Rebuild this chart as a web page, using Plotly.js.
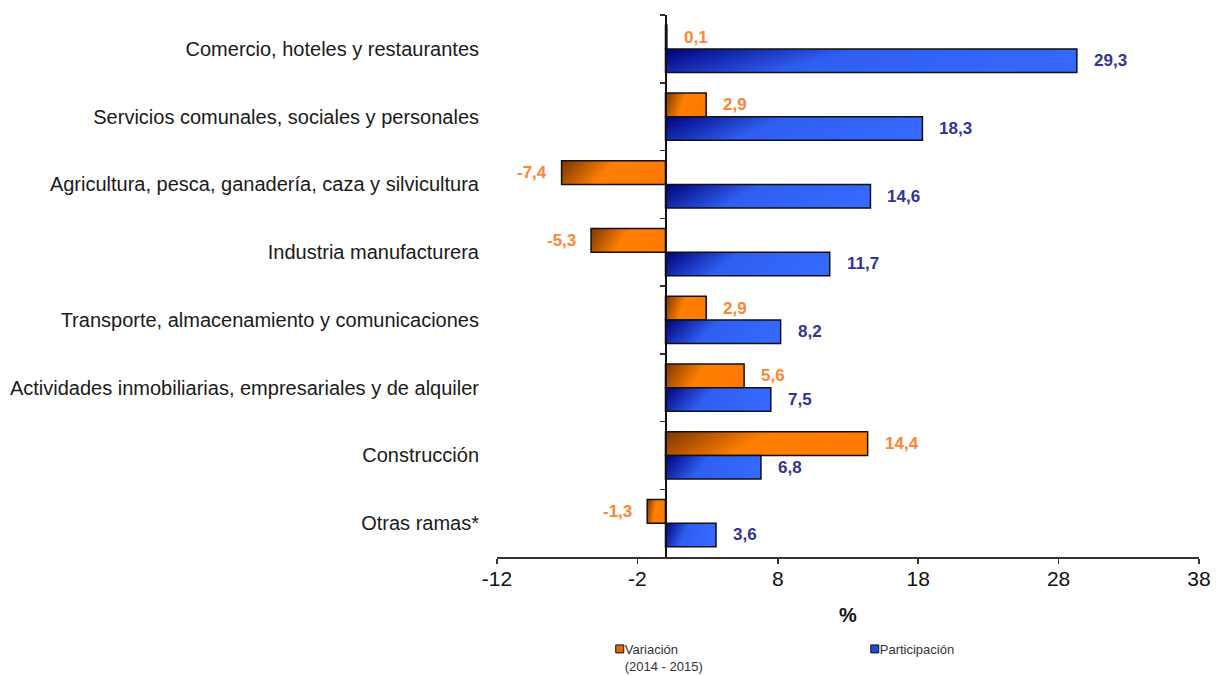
<!DOCTYPE html>
<html>
<head>
<meta charset="utf-8">
<script src="https://cdn.plot.ly/plotly-3.0.1.min.js"></script>
<style>
  html, body { margin: 0; padding: 0; background: #ffffff; }
  #chart { width: 1217px; height: 675px; }
</style>
</head>
<body>
<div id="chart"></div>
<script>
// ---- Data ----
const categories = [
  "Comercio, hoteles y restaurantes",
  "Servicios comunales, sociales y personales",
  "Agricultura, pesca, ganadería, caza y silvicultura",
  "Industria manufacturera",
  "Transporte, almacenamiento y comunicaciones",
  "Actividades inmobiliarias, empresariales y de alquiler",
  "Construcción",
  "Otras ramas*"
];
const variacion = [0.1, 2.9, -7.4, -5.3, 2.9, 5.6, 14.4, -1.3];
const participacion = [29.3, 18.3, 14.6, 11.7, 8.2, 7.5, 6.8, 3.6];
const seriesNames = ["Variación<br>(2014 - 2015)", "Participación"];
const xTicks = [-12, -2, 8, 18, 28, 38];
const axisTitle = "%";

// ---- Styles ----
const FONT = "Liberation Sans, Arial, sans-serif";
const orangeFill = "#E06A10";
const blueFill = "#2448D8";
const orangeText = "#FF8433";
const blueText = "#333399";

const fmt = v => v.toFixed(1).replace(".", ",");

const traces = [
  {
    type: "bar", orientation: "h", name: seriesNames[0],
    x: variacion, y: categories,
    marker: { color: orangeFill, line: { color: "#111111", width: 1.5 } },
    hoverinfo: "skip"
  },
  {
    type: "bar", orientation: "h", name: seriesNames[1],
    x: participacion, y: categories,
    marker: { color: blueFill, line: { color: "#111111", width: 1.5 } },
    hoverinfo: "skip"
  },
  {
    // invisible helper trace so the zero-line axis gets its category ticks
    type: "scatter", mode: "markers", x: categories.map(() => 0), y: categories,
    yaxis: "y2", marker: { opacity: 0, size: 1 }, showlegend: false, hoverinfo: "skip"
  }
];

// value labels (built from the data arrays)
const annotations = [];
const halfBar = 11.8;
[[variacion, orangeText, halfBar], [participacion, blueText, -halfBar]].forEach(([vals, col, ys]) => {
  vals.forEach((v, i) => {
    annotations.push({
      x: v, y: categories[i], xref: "x", yref: "y",
      text: fmt(v), showarrow: false,
      xanchor: v >= 0 ? "left" : "right",
      xshift: v >= 0 ? 15 : -13,
      yshift: ys,
      font: { family: FONT, size: 17, color: col, weight: "bold" }
    });
  });
});

const catRange = [categories.length - 0.5, -0.5];

const layout = {
  width: 1217, height: 675,
  paper_bgcolor: "#ffffff", plot_bgcolor: "#ffffff",
  margin: { l: 497, r: 18, t: 15, b: 118, autoexpand: false },
  barmode: "group", bargap: 0.3, bargroupgap: 0,
  showlegend: true,
  font: { family: FONT, color: "#222222" },
  xaxis: {
    range: [xTicks[0], xTicks[xTicks.length - 1]],
    tickvals: xTicks, ticktext: xTicks.map(String),
    ticks: "outside", ticklen: 5, tickcolor: "#333333", tickwidth: 1.5,
    ticklabelstandoff: -3,
    showline: true, linecolor: "#333333", linewidth: 1.5,
    showgrid: false, zeroline: false,
    tickfont: { family: FONT, size: 21, color: "#111111" },
    title: { text: axisTitle, font: { family: FONT, size: 20, color: "#111111", weight: "bold" }, standoff: 19 }
  },
  yaxis: {
    type: "category", range: catRange,
    categoryorder: "array", categoryarray: categories,
    showline: false, ticks: "", showgrid: false, zeroline: false,
    ticklabelstandoff: 17,
    tickfont: { family: FONT, size: 20, color: "#1a1a1a" }
  },
  yaxis2: {
    type: "category", range: catRange, overlaying: "y",
    categoryorder: "array", categoryarray: categories,
    anchor: "free", position: (0 - xTicks[0]) / (xTicks[xTicks.length - 1] - xTicks[0]),
    side: "left",
    showline: true, linecolor: "#111111", linewidth: 1.5,
    ticks: "outside", tickson: "boundaries", ticklen: 5, tickcolor: "#333333", tickwidth: 1.5,
    showticklabels: false, showgrid: false, zeroline: false
  },
  legend: {
    orientation: "h", x: 0.125, xanchor: "left", y: -0.142, yanchor: "top",
    valign: "top", traceorder: "normal",
    entrywidth: 210, entrywidthmode: "pixels",
    itemwidth: 30,
    font: { family: FONT, size: 13, color: "#333333" },
    bgcolor: "rgba(0,0,0,0)"
  },
  annotations: annotations
};

function applyGradients(gd) {
  const svg = gd.querySelector("svg.main-svg");
  if (!svg) return;
  let defs = svg.querySelector("defs");
  if (!defs) { defs = document.createElementNS("http://www.w3.org/2000/svg", "defs"); svg.insertBefore(defs, svg.firstChild); }
  const mk = (id, stops) => {
    if (defs.querySelector("#" + id)) return;
    const g = document.createElementNS("http://www.w3.org/2000/svg", "linearGradient");
    g.setAttribute("id", id);
    g.setAttribute("x1", "0"); g.setAttribute("y1", "0");
    g.setAttribute("x2", "1"); g.setAttribute("y2", "0.2");
    stops.forEach(([o, c]) => {
      const s = document.createElementNS("http://www.w3.org/2000/svg", "stop");
      s.setAttribute("offset", o); s.setAttribute("stop-color", c);
      g.appendChild(s);
    });
    defs.appendChild(g);
  };
  mk("gradOrange", [["0", "#7a3600"], ["0.5", "#ff7f00"], ["1", "#ff7a00"]]);
  mk("gradBlue", [["0", "#00007a"], ["0.45", "#2f5ff0"], ["1", "#3468ff"]]);
  const barTraces = gd.querySelectorAll(".barlayer .trace");
  barTraces.forEach((t, i) => {
    const id = i === 0 ? "gradOrange" : "gradBlue";
    t.querySelectorAll(".point path").forEach(p => { p.style.fill = "url(#" + id + ")"; });
  });
  // small legend swatches placed right next to the text, as in the reference
  gd.querySelectorAll(".legend .legendpoints path").forEach(p => {
    p.setAttribute("d", "M19,4H11V-4H19Z");
    p.style.strokeWidth = "1px";
  });
}

const gd = document.getElementById("chart");
Plotly.newPlot(gd, traces, layout, { displayModeBar: false, staticPlot: true }).then(() => {
  applyGradients(gd);
  gd.on("plotly_afterplot", () => applyGradients(gd));
});
</script>
</body>
</html>
